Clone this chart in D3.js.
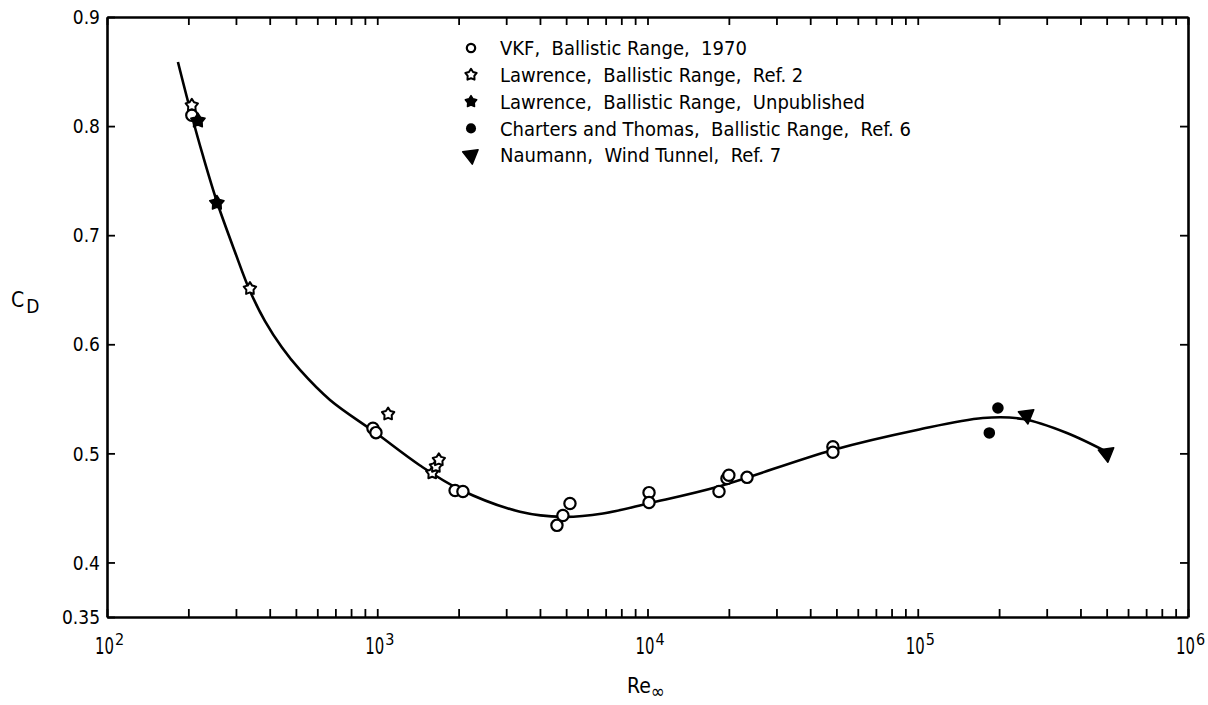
<!DOCTYPE html>
<html>
<head>
<meta charset="utf-8">
<script src="https://cdn.jsdelivr.net/npm/d3@7"></script>
<style>
  body { margin: 0; background: #fff; }
  svg { display: block; }
  .axis path, .axis line { stroke: #000; }
  .axis path { stroke-width: 2.6; }
  .axis line { stroke-width: 1.8; }
  .lbl { font-family: "DejaVu Sans Condensed", "DejaVu Sans", "Liberation Sans", sans-serif; fill: #000; }
</style>
</head>
<body>
<svg id="chart"></svg>
<script>
// faired curve through the data (Re, CD)
var fairing = [
  [183, 0.8588], [202.8, 0.8157], [226.6, 0.7726], [255.3, 0.7304], [297.6, 0.6846],
  [338.1, 0.6488], [384.2, 0.6213], [444.2, 0.5971], [517.8, 0.5765], [668.6, 0.5490],
  [981, 0.5193], [1440, 0.4889], [2024, 0.4669], [3375, 0.4465], [4866, 0.4418],
  [6843, 0.4449], [10210, 0.4545], [18070, 0.4692], [48550, 0.5031], [99300, 0.5214],
  [174200, 0.5324], [245000, 0.5315], [356500, 0.5187], [501200, 0.5013]
];

// VKF, Ballistic Range, 1970 (open circles)
var vkf = [
  [206, 0.810], [964, 0.523], [989, 0.519], [1941, 0.466], [2075, 0.465],
  [4623, 0.434], [4864, 0.443], [5165, 0.454], [10130, 0.464], [10130, 0.455],
  [18390, 0.465], [19680, 0.477], [20000, 0.480], [23350, 0.478],
  [48530, 0.506], [48530, 0.501]
];

// Lawrence, Ballistic Range, Ref. 2 (open stars)
var lawrenceRef2 = [
  [206, 0.819], [338, 0.651], [1097, 0.536], [1597, 0.482], [1648, 0.488], [1690, 0.494]
];

// Lawrence, Ballistic Range, Unpublished (filled stars)
var lawrenceUnpub = [[217, 0.805], [255, 0.7295]];

// Charters and Thomas, Ballistic Range, Ref. 6 (filled circles)
var charters = [[184000, 0.5187], [198000, 0.5416]];

// Naumann, Wind Tunnel, Ref. 7 (filled triangles)
var naumann = [[253000, 0.535], [500000, 0.500]];

var yTicks = [0.35, 0.4, 0.5, 0.6, 0.7, 0.8, 0.9];
var decades = [2, 3, 4, 5, 6];

var legendItems = [
  "VKF,  Ballistic Range,  1970",
  "Lawrence,  Ballistic Range,  Ref. 2",
  "Lawrence,  Ballistic Range,  Unpublished",
  "Charters and Thomas,  Ballistic Range,  Ref. 6",
  "Naumann,  Wind Tunnel,  Ref. 7"
];

var screen = {width: 1208, height: 705};
var margins = {top: 17, bottom: 88, left: 107, right: 20};

var svg = d3.select("#chart")
    .attr("width", screen.width)
    .attr("height", screen.height);

var xScale = d3.scaleLog()
    .domain([1e2, 1e6])
    .range([margins.left, screen.width - margins.right]);

var yScale = d3.scaleLinear()
    .domain([0.35, 0.9])
    .range([screen.height - margins.bottom, margins.top]);

// log ticks 1..9 in every decade
var xTicks = [];
for (var e = 2; e < 6; e++) {
    for (var m = 1; m < 10; m++) xTicks.push(m * Math.pow(10, e));
}
xTicks.push(1e6);

var x0 = xScale.range()[0], x1 = xScale.range()[1];
var y0 = yScale.range()[0], y1 = yScale.range()[1];

// frame with inward ticks
svg.append("g").classed("axis", true)
    .attr("transform", "translate(0," + y0 + ")")
    .call(d3.axisBottom(xScale).tickValues(xTicks).tickSizeInner(-8).tickSizeOuter(0).tickFormat(""));
svg.append("g").classed("axis", true)
    .attr("transform", "translate(0," + y1 + ")")
    .call(d3.axisTop(xScale).tickValues(xTicks).tickSizeInner(-8).tickSizeOuter(0).tickFormat(""));
svg.append("g").classed("axis", true)
    .attr("transform", "translate(" + x0 + ",0)")
    .call(d3.axisLeft(yScale).tickValues(yTicks).tickSizeInner(-8).tickSizeOuter(0).tickFormat(""));
svg.append("g").classed("axis", true)
    .attr("transform", "translate(" + x1 + ",0)")
    .call(d3.axisRight(yScale).tickValues(yTicks.slice(1, 6)).tickSizeInner(-8).tickSizeOuter(0).tickFormat(""));

// y tick labels
svg.append("g").selectAll("text")
    .data(yTicks)
    .enter()
    .append("text")
    .classed("lbl", true)
    .attr("x", x0 - 7)
    .attr("y", function(d) { return yScale(d); })
    .attr("dy", "0.38em")
    .attr("text-anchor", "end")
    .style("font-size", "19px")
    .text(function(d) { return d3.format(".2~f")(d); });

// x tick labels 10^n, mantissa squeezed like the narrow typewriter face
var xl = svg.append("g").selectAll("g")
    .data(decades)
    .enter()
    .append("g")
    .attr("transform", function(d) {
        return "translate(" + xScale(Math.pow(10, d)) + "," + (y0 + 37) + ")";
    });
xl.append("text")
    .classed("lbl", true)
    .attr("transform", "translate(-12,0) scale(0.72,1)")
    .style("font-size", "23px")
    .text("10");
xl.append("text")
    .classed("lbl", true)
    .attr("x", 8)
    .attr("y", -9)
    .style("font-size", "16px")
    .text(function(d) { return d; });

// axis titles
var xt = svg.append("text").classed("lbl", true)
    .attr("x", 627).attr("y", 693)
    .style("font-size", "21px");
xt.append("tspan").text("Re");
xt.append("tspan").attr("dy", 5).style("font-size", "19px").text("\u221E");

var yt = svg.append("text").classed("lbl", true)
    .attr("x", 11).attr("y", 307)
    .style("font-size", "21px");
yt.append("tspan").text("C");
yt.append("tspan").attr("dy", 6).attr("dx", 2).style("font-size", "19px").text("D");

// faired curve
var line = d3.line()
    .x(function(d) { return xScale(d[0]); })
    .y(function(d) { return yScale(d[1]); })
    .curve(d3.curveCatmullRom.alpha(0.5));

svg.append("path")
    .datum(fairing)
    .attr("d", line)
    .attr("fill", "none")
    .attr("stroke", "#000")
    .attr("stroke-width", 2.6);

// stubby five point star like the typed symbols
var starPath = function(outer) {
    var pts = d3.range(10).map(function(i) {
        return [i * Math.PI / 5, i % 2 ? outer * 0.58 : outer];
    });
    return d3.lineRadial().curve(d3.curveLinearClosed)(pts);
};
var tri = d3.symbol(d3.symbolTriangle).size(105);

var drawShape = function(sel, kind, legendSize) {
    if (kind === "openCircle") {
        sel.attr("d", d3.symbol(d3.symbolCircle).size(legendSize ? 55 : 100)())
            .attr("fill", "#fff").attr("stroke", "#000").attr("stroke-width", 2.2);
    } else if (kind === "fillCircle") {
        sel.attr("d", d3.symbol(d3.symbolCircle).size(legendSize ? 80 : 105)())
            .attr("fill", "#000");
    } else if (kind === "openStar") {
        sel.attr("d", starPath(legendSize ? 6 : 6.5)).attr("fill", "#fff")
            .attr("stroke", "#000").attr("stroke-width", 2).attr("stroke-linejoin", "round");
    } else if (kind === "fillStar") {
        sel.attr("d", starPath(legendSize ? 6 : 7.5)).attr("fill", "#000")
            .attr("stroke", "#000").attr("stroke-width", 1.5).attr("stroke-linejoin", "round");
    } else {
        sel.attr("d", tri()).attr("fill", "#000")
            .attr("stroke", "#000").attr("stroke-width", 1.5).attr("stroke-linejoin", "round");
    }
};

var drawMarks = function(data, kind) {
    var sel = svg.append("g").selectAll("path")
        .data(data)
        .enter()
        .append("path")
        .attr("transform", function(d) {
            var t = "translate(" + xScale(d[0]) + "," + yScale(d[1]) + ")";
            return kind === "tri" ? t + " rotate(172)" : t;
        });
    drawShape(sel, kind, false);
};

drawMarks(vkf, "openCircle");
drawMarks(lawrenceRef2, "openStar");
drawMarks(lawrenceUnpub, "fillStar");
drawMarks(charters, "fillCircle");
drawMarks(naumann, "tri");

// legend
var kinds = ["openCircle", "openStar", "fillStar", "fillCircle", "tri"];
var legend = svg.append("g").attr("transform", "translate(471,48)");
legendItems.forEach(function(label, i) {
    var row = legend.append("g").attr("transform", "translate(0," + (i * 26.8) + ")");
    var mark = row.append("path")
        .attr("transform", kinds[i] === "tri" ? "rotate(172)" : null);
    drawShape(mark, kinds[i], true);
    row.append("text").classed("lbl", true)
        .attr("x", 29)
        .attr("dy", "0.36em")
        .style("font-size", "20px")
        .attr("xml:space", "preserve")
        .text(label);
});
</script>
</body>
</html>
